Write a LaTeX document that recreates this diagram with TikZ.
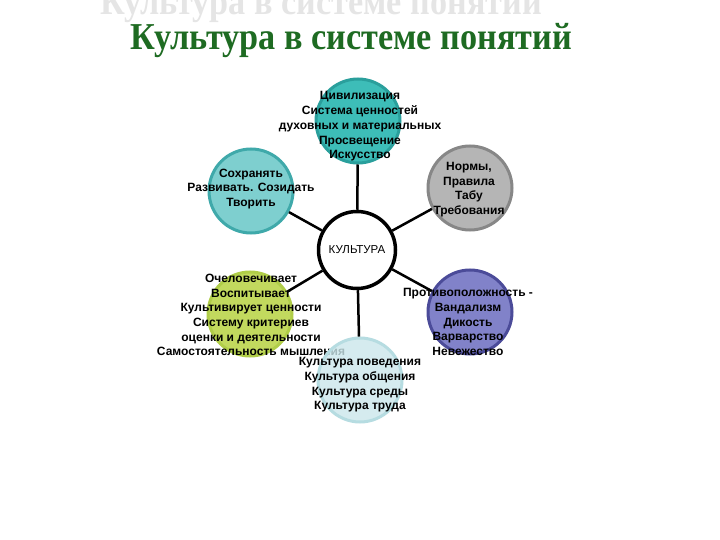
\documentclass[tikz,border=0pt]{standalone}
\usepackage{fontspec}
\setmainfont{Liberation Sans}
\newfontfamily\titlefont{Liberation Serif}
\definecolor{titlegreen}{HTML}{1E6B22}
\definecolor{tealfill}{HTML}{3DBDB8}
\definecolor{tealring}{HTML}{2A9F9C}
\definecolor{lightfill}{HTML}{7ECFCF}
\definecolor{lightring}{HTML}{3FA9AA}
\definecolor{grayfill}{HTML}{B5B5B5}
\definecolor{grayring}{HTML}{878787}
\definecolor{greenfill}{HTML}{C2D95E}
\definecolor{greenring}{HTML}{B0CD48}
\definecolor{bluefill}{HTML}{8182C9}
\definecolor{bluering}{HTML}{4B4B99}
\definecolor{palefill}{HTML}{CBE7EB}
\definecolor{palering}{HTML}{B6DCE1}
\begin{document}
\begin{tikzpicture}[x = 1pt, y = -1pt,
    bubble/.style = {circle, minimum size = 84pt, inner sep = 0pt, line width = 3pt},
    words/.style = {align = center, inner sep = 0pt, font = \fontsize{12}{14.7}\selectfont\bfseries},
    heading/.style = {anchor = base west, inner sep = 0pt, font = \fontsize{38}{38}\selectfont\titlefont\bfseries},
    link/.style = {line width = 2.5pt}]
  \useasboundingbox [fill = white] (0, 0) rectangle (720, 540);
  \node [heading, text = gray!20] (ghost) at (100, 15) {\scalebox{0.9}[1]{Культура в системе понятий}};
  \node [heading, text = titlegreen] (title) at (130, 50) {\scalebox{0.9}[1]{Культура в системе понятий}};
  \node [bubble, fill = tealfill, draw = tealring] (civ) at (358, 121) {};
  \node [bubble, fill = lightfill, draw = lightring] (keep) at (251, 191) {};
  \node [bubble, fill = grayfill, draw = grayring] (norms) at (470, 188) {};
  \node [bubble, fill = greenfill, draw = greenring] (human) at (250, 314) {};
  \node [bubble, fill = bluefill, draw = bluering] (opposite) at (470, 312) {};
  \node [circle, minimum size = 77pt, draw, line width = 3.5pt, fill = white] (culture) at (357, 250) {};
  \draw [link] (culture) -- (civ);
  \draw [link] (culture) -- (keep);
  \draw [link] (culture) -- (norms);
  \draw [link] (culture) -- (human);
  \draw [link] (culture) -- (opposite);
  \node [words] (civtext) at (360, 126.5) {Цивилизация\\Система ценностей\\духовных и материальных\\Просвещение\\Искусство};
  \node [words] (keeptext) at (251, 189) {Сохранять\\Развивать. Созидать\\Творить};
  \node [words] (normstext) at (469, 189.5) {Нормы,\\Правила\\Табу\\Требования};
  \node [words] (humantext) at (251, 315) {Очеловечивает\\Воспитывает\\Культивирует ценности\\Систему критериев\\оценки  и деятельности\\Самостоятельность мышления};
  \node [bubble, fill = palefill, draw = palering, fill opacity = 0.8] (manners) at (360, 380) {};
  \draw [link] (culture) -- (manners);
  \node [words] (oppositetext) at (468, 322) {Противоположность -\\Вандализм\\Дикость\\Варварство\\Невежество};
  \node [words] (mannerstext) at (360, 385) {Культура поведения\\Культура общения\\Культура среды\\Культура труда};
  \node [font = \fontsize{11.5}{13}\selectfont, inner sep = 0pt] (culturetext) at (357, 250) {КУЛЬТУРА};
\end{tikzpicture}
\end{document}
